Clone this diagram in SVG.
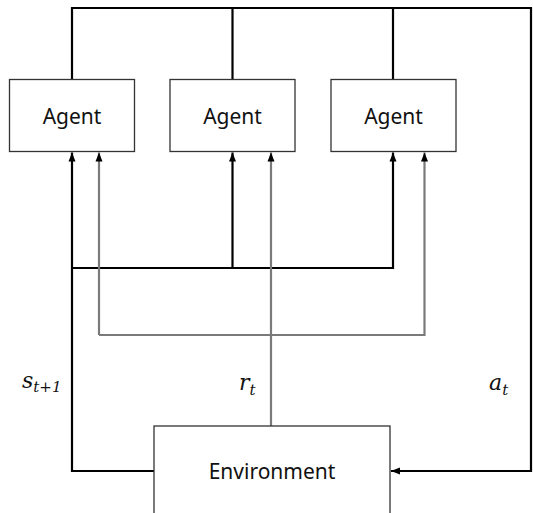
<svg xmlns="http://www.w3.org/2000/svg" width="533" height="513" viewBox="0 0 533 513">
<style>
.box{fill:#fff;stroke:#333;stroke-width:1.3}
.lbl{font-family:"Noto Sans","Open Sans",sans-serif;font-size:21px;fill:#111;text-anchor:middle}
.blk{fill:none;stroke:#000;stroke-width:2.2}
.gry{fill:none;stroke:#7a7a7a;stroke-width:2.2}
.math{font-family:"DejaVu Serif","Liberation Serif",serif;font-style:italic;fill:#111}
</style>
<defs>
<marker id="ah" markerUnits="userSpaceOnUse" markerWidth="10" markerHeight="10" viewBox="0 0 10 10" refX="9" refY="5" orient="auto">
<path d="M0,1.5 L9,5 L0,8.5 Z" fill="#000"/>
</marker>
</defs>
<rect width="533" height="513" fill="#fff"/>
<g id="connectors">
<path class="blk" d="M72,79 V8 H531 V471 H391" marker-end="url(#ah)"/>
<path class="blk" d="M232.5,8 V79"/>
<path class="blk" d="M393,8 V79"/>
<path class="blk" d="M154,471 H72 V152.5" marker-end="url(#ah)"/>
<path class="blk" d="M72,268 H393 V152.5" marker-end="url(#ah)"/>
<path class="blk" d="M232.5,268 V152.5" marker-end="url(#ah)"/>
<path class="gry" d="M99,335 V152.5" marker-end="url(#ah)"/>
<path class="gry" d="M99,335 H424.5 V152.5" marker-end="url(#ah)"/>
<path class="gry" d="M271,426 V152.5" marker-end="url(#ah)"/>
</g>
<g id="agent1"><rect class="box" x="9.5" y="79.5" width="125" height="72"/><text class="lbl" x="72" y="124">Agent</text></g>
<g id="agent2"><rect class="box" x="170" y="79.5" width="125" height="72"/><text class="lbl" x="232.5" y="124">Agent</text></g>
<g id="agent3"><rect class="box" x="331" y="79.5" width="125" height="72"/><text class="lbl" x="393.5" y="124">Agent</text></g>
<g id="environment"><rect class="box" x="154" y="426" width="236" height="100"/><text class="lbl" x="272" y="479">Environment</text></g>
<g id="labels">
<text class="math" x="22" y="388" font-size="22">s<tspan font-size="15" dy="4">t+1</tspan></text>
<text class="math" x="239" y="390" font-size="22">r<tspan font-size="15" dy="5">t</tspan></text>
<text class="math" x="489" y="390" font-size="22">a<tspan font-size="15" dy="5">t</tspan></text>
</g>
</svg>
